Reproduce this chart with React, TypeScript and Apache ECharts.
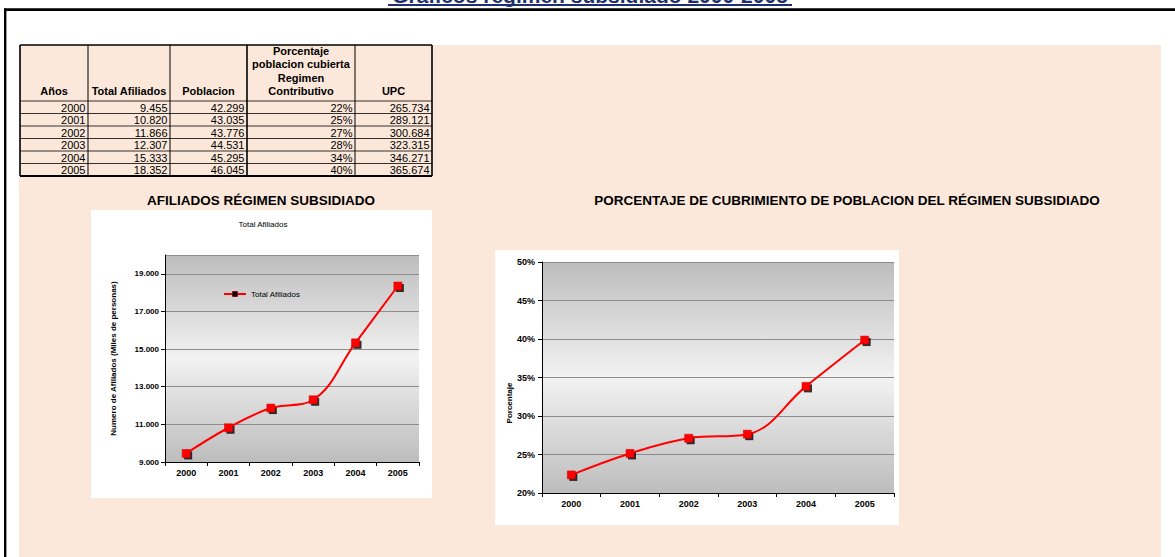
import React, { useEffect, useRef } from "react";
import * as echarts from "echarts";

const years = ["2000", "2001", "2002", "2003", "2004", "2005"];
const totalAfiliados = [9455, 10820, 11866, 12307, 15333, 18352];
const poblacion = [42299, 43035, 43776, 44531, 45295, 46045];
const porcentajeCubierto = [22.35, 25.14, 27.11, 27.64, 33.85, 39.86];
const porcentajeTabla = [22, 25, 27, 28, 34, 40];
const upc = [265734, 289121, 300684, 323315, 346271, 365674];

const afiliadosAxis = { min: 9000, max: 20000, interval: 2000 };
const porcentajeAxis = { min: 20, max: 50, interval: 5 };

const tableHeaders = [
  "Años",
  "Total Afiliados",
  "Poblacion",
  "Porcentaje\npoblacion cubierta\nRegimen\nContributivo",
  "UPC",
];

const mainTitle = "Gráficos régimen subsidiado 2000-2005";
const leftSectionTitle = "AFILIADOS RÉGIMEN SUBSIDIADO";
const rightSectionTitle =
  "PORCENTAJE DE CUBRIMIENTO DE POBLACION DEL RÉGIMEN SUBSIDIADO";
const leftChartTitle = "Total Afiliados";
const leftYName = "Numero de Afiliados (Miles de personas)";
const rightYName = "Porcentaje";

const FONT = "'Liberation Sans', Arial, Helvetica, sans-serif";

const fmt = (n: number) =>
  String(n).replace(/\B(?=(\d{3})+(?!\d))/g, ".");

function buildTable(): any[] {
  const els: any[] = [];
  const cols = [20, 88, 170, 247, 355, 432];
  const top = 45;
  const headBottom = 101;
  const rowH = 12.5;
  const bottom = headBottom + rowH * years.length;
  tableHeaders.forEach((h, i) => {
    els.push({
      type: "text",
      x: (cols[i] + cols[i + 1]) / 2,
      y: 98,
      z: 5,
      style: {
        text: h,
        font: `bold 11px ${FONT}`,
        fill: "#000",
        align: "center",
        verticalAlign: "bottom",
        lineHeight: 13.5,
      },
    });
  });
  const rows = years.map((y, i) => [
    y,
    fmt(totalAfiliados[i]),
    fmt(poblacion[i]),
    porcentajeTabla[i] + "%",
    fmt(upc[i]),
  ]);
  rows.forEach((r, ri) => {
    r.forEach((cell, ci) => {
      els.push({
        type: "text",
        x: cols[ci + 1] - 2.5,
        y: headBottom + rowH * ri + rowH / 2 + 0.5,
        z: 5,
        style: {
          text: cell,
          font: `11px ${FONT}`,
          fill: "#000",
          align: "right",
          verticalAlign: "middle",
        },
      });
    });
  });
  cols.forEach((x, i) => {
    const outer = i === 0 || i === cols.length - 1;
    els.push({
      type: "line",
      z: 6,
      shape: { x1: x, y1: top, x2: x, y2: bottom },
      style: { stroke: "#000", lineWidth: outer || i === 3 ? 1.6 : 1 },
    });
  });
  els.push({
    type: "line",
    z: 6,
    shape: { x1: cols[0], y1: top, x2: cols[5], y2: top },
    style: { stroke: "#000", lineWidth: 1.6 },
  });
  for (let r = 0; r <= years.length; r++) {
    const y = headBottom + rowH * r;
    els.push({
      type: "line",
      z: 6,
      shape: { x1: cols[0], y1: y, x2: cols[5], y2: y },
      style: { stroke: "#000", lineWidth: r === years.length ? 2 : 0.8 },
    });
  }
  return els;
}

const plotBg = () =>
  new echarts.graphic.LinearGradient(0, 0, 0, 1, [
    { offset: 0, color: "#BDBDBD" },
    { offset: 0.5, color: "#F2F2F2" },
    { offset: 1, color: "#BDBDBD" },
  ]);

export default function App() {
  const ref = useRef<HTMLDivElement>(null);
  useEffect(() => {
    document.body.style.margin = "0";
    if (!ref.current) return;
    const chart = echarts.init(ref.current, undefined, { renderer: "svg" });

    const axisLabelBase = {
      color: "#000",
      fontWeight: "bold" as const,
      fontFamily: FONT,
    };

    const option: any = {
      animation: false,
      backgroundColor: "#FFFFFF",
      textStyle: { fontFamily: FONT },
      graphic: {
        elements: [
          {
            type: "line",
            z: -20,
            shape: { x1: 4, y1: 9.6, x2: 1175, y2: 9.6 },
            style: { stroke: "#000", lineWidth: 2.6 },
          },
          {
            type: "line",
            z: -20,
            shape: { x1: 5.2, y1: 8.4, x2: 5.2, y2: 557 },
            style: { stroke: "#000", lineWidth: 2.4 },
          },
          {
            type: "rect",
            z: -30,
            shape: { x: 19, y: 45, width: 1142, height: 520 },
            style: { fill: "#FCE8DA" },
          },
          {
            type: "text",
            x: 590,
            y: 5.5,
            z: 5,
            style: {
              text: mainTitle,
              font: `bold 21px ${FONT}`,
              fill: "#1F2F70",
              align: "center",
              verticalAlign: "bottom",
            },
          },
          {
            type: "line",
            z: 5,
            shape: { x1: 388, y1: 5, x2: 792, y2: 5 },
            style: { stroke: "#1F2F70", lineWidth: 1.8 },
          },
          {
            type: "text",
            x: 261,
            y: 200,
            z: 5,
            style: {
              text: leftSectionTitle,
              font: `bold 13.5px ${FONT}`,
              fill: "#000",
              align: "center",
              verticalAlign: "middle",
            },
          },
          {
            type: "text",
            x: 847,
            y: 200,
            z: 5,
            style: {
              text: rightSectionTitle,
              font: `bold 13.5px ${FONT}`,
              fill: "#000",
              align: "center",
              verticalAlign: "middle",
            },
          },
          {
            type: "rect",
            z: -10,
            shape: { x: 91, y: 210, width: 341, height: 288 },
            style: { fill: "#FFFFFF" },
          },
          {
            type: "rect",
            z: -10,
            shape: { x: 495, y: 250, width: 404, height: 275 },
            style: { fill: "#FFFFFF" },
          },
          {
            type: "text",
            x: 263,
            y: 224,
            z: 5,
            style: {
              text: leftChartTitle,
              font: `8px ${FONT}`,
              fill: "#000",
              align: "center",
              verticalAlign: "middle",
            },
          },
          {
            type: "text",
            x: 509,
            y: 403,
            z: 5,
            rotation: Math.PI / 2,
            style: {
              text: rightYName,
              font: `bold 8px ${FONT}`,
              fill: "#000",
              align: "center",
              verticalAlign: "middle",
            },
          },
          ...buildTable(),
        ],
      },
      legend: {
        data: [leftChartTitle],
        left: 218,
        top: 285,
        itemWidth: 22,
        itemHeight: 6,
        textStyle: { fontSize: 8, color: "#000", fontFamily: FONT },
        itemStyle: { color: "#000", borderColor: "#880000", borderWidth: 1 },
        lineStyle: { color: "#FF0000", width: 2 },
      },
      grid: [
        {
          left: 165,
          top: 255,
          width: 254,
          height: 207,
          show: true,
          backgroundColor: plotBg(),
          borderWidth: 0,
        },
        {
          left: 542,
          top: 262,
          width: 352,
          height: 231,
          show: true,
          backgroundColor: plotBg(),
          borderWidth: 0,
        },
      ],
      xAxis: [0, 1].map((gi) => ({
        gridIndex: gi,
        type: "category",
        data: years,
        boundaryGap: true,
        axisLine: { show: true, lineStyle: { color: "#000", width: 1 } },
        axisTick: { show: true, length: 4, lineStyle: { color: "#000" } },
        axisLabel: { ...axisLabelBase, fontSize: 9, margin: 6 },
        splitLine: { show: false },
      })),
      yAxis: [
        {
          gridIndex: 0,
          type: "value",
          min: afiliadosAxis.min,
          max: afiliadosAxis.max,
          interval: afiliadosAxis.interval,
          axisLine: { show: true, lineStyle: { color: "#000", width: 1 } },
          axisTick: { show: true, length: 4, lineStyle: { color: "#000" } },
          axisLabel: {
            ...axisLabelBase,
            fontSize: 8,
            margin: 6,
            showMaxLabel: false,
            formatter: (v: number) => fmt(v),
          },
          splitLine: { show: true, lineStyle: { color: "#8C8C8C", width: 1 } },
          name: leftYName,
          nameLocation: "middle",
          nameGap: 48,
          nameTextStyle: {
            fontSize: 8,
            fontWeight: "bold",
            color: "#000",
            fontFamily: FONT,
          },
        },
        {
          gridIndex: 1,
          type: "value",
          min: porcentajeAxis.min,
          max: porcentajeAxis.max,
          interval: porcentajeAxis.interval,
          axisLine: { show: true, lineStyle: { color: "#000", width: 1 } },
          axisTick: { show: true, length: 4, lineStyle: { color: "#000" } },
          axisLabel: {
            ...axisLabelBase,
            fontSize: 9,
            margin: 7,
            formatter: (v: number) => Math.round(v) + "%",
          },
          splitLine: { show: true, lineStyle: { color: "#8C8C8C", width: 1 } },
        },
      ],
      series: [
        {
          type: "scatter",
          name: "sombra afiliados",
          xAxisIndex: 0,
          yAxisIndex: 0,
          data: totalAfiliados,
          symbol: "rect",
          symbolSize: 8,
          symbolOffset: [2, 2],
          itemStyle: { color: "#000" },
          silent: true,
          z: 2,
        },
        {
          type: "line",
          name: leftChartTitle,
          xAxisIndex: 0,
          yAxisIndex: 0,
          data: totalAfiliados,
          smooth: 0.4,
          symbol: "rect",
          symbolSize: 8,
          showAllSymbol: true,
          lineStyle: { color: "#FF0000", width: 2 },
          itemStyle: { color: "#FF0000", borderColor: "#D00000", borderWidth: 0.5 },
          z: 3,
        },
        {
          type: "scatter",
          name: "sombra porcentaje",
          xAxisIndex: 1,
          yAxisIndex: 1,
          data: porcentajeCubierto,
          symbol: "rect",
          symbolSize: 8,
          symbolOffset: [2, 2],
          itemStyle: { color: "#000" },
          silent: true,
          z: 2,
        },
        {
          type: "line",
          name: rightYName,
          xAxisIndex: 1,
          yAxisIndex: 1,
          data: porcentajeCubierto,
          smooth: 0.4,
          symbol: "rect",
          symbolSize: 8,
          showAllSymbol: true,
          lineStyle: { color: "#FF0000", width: 2 },
          itemStyle: { color: "#FF0000", borderColor: "#D00000", borderWidth: 0.5 },
          z: 3,
        },
      ],
    };
    chart.setOption(option);
    return () => chart.dispose();
  }, []);
  return (
    <div
      ref={ref}
      style={{
        position: "fixed",
        left: 0,
        top: 0,
        width: 1175,
        height: 557,
      }}
    />
  );
}
